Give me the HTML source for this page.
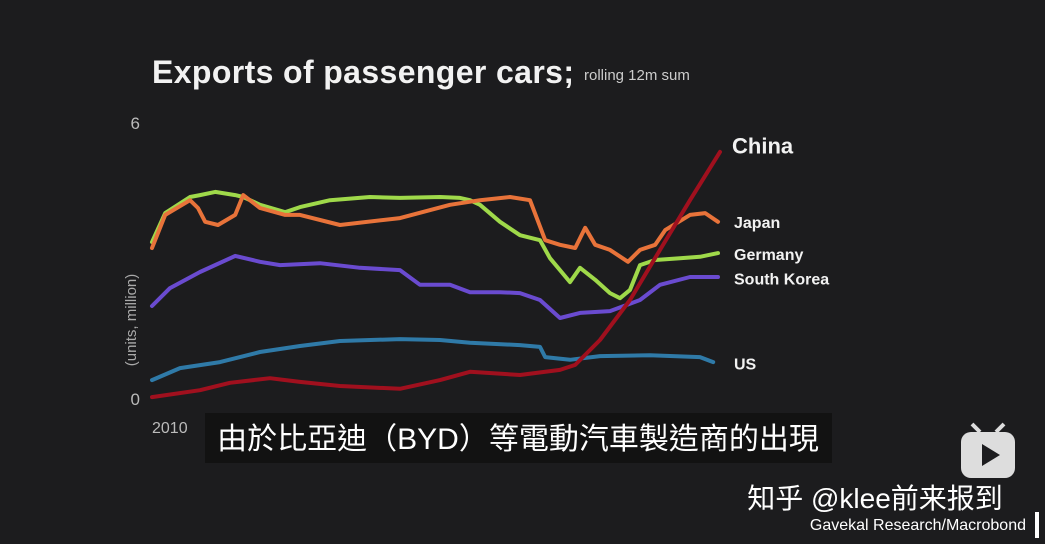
<!DOCTYPE html>
<html><head><meta charset="utf-8"><style>
body{margin:0;background:#1b1b1d;width:1045px;height:544px;overflow:hidden;font-family:"Liberation Sans","Noto Sans CJK TC",sans-serif;}
svg{position:absolute;left:0;top:0}
</style></head><body>
<svg width="1045" height="544">
<rect width="1045" height="544" fill="#1c1c1e"/>
<text x="152" y="83" fill="#f2f2f2" font-size="32" font-weight="bold" textLength="422">Exports of passenger cars;</text>
<text x="584" y="80" fill="#ccc" font-size="15">rolling 12m sum</text>
<text x="136" y="320" fill="#aaa" font-size="15" transform="rotate(-90 136 320)" text-anchor="middle">(units, million)</text>
<g id="ticks"></g>
<g id="lines"></g>
<g id="labels"></g>
<rect x="205" y="413" width="627" height="50" fill="#111" opacity="0.85"/>
<text x="518" y="449" fill="#fff" font-size="30" text-anchor="middle" font-family="'Liberation Sans','Noto Sans CJK TC',sans-serif">由於比亞迪（BYD）等電動汽車製造商的出現</text>
<text x="875" y="508" fill="#fff" font-size="28" text-anchor="middle" font-family="'Liberation Sans','Noto Sans CJK SC',sans-serif">知乎 @klee前来报到</text>
<g>
<rect x="961" y="432" width="54" height="46" rx="10" fill="#ddd"/>
<line x1="972" y1="424" x2="980" y2="432" stroke="#ddd" stroke-width="4"/>
<line x1="1004" y1="424" x2="996" y2="432" stroke="#ddd" stroke-width="4"/>
<polygon points="982,444 982,466 1000,455" fill="#1c1c1e"/>
</g>
<text x="1026" y="530" fill="#fff" font-size="16" text-anchor="end">Gavekal Research/Macrobond</text>
<rect x="1035" y="512" width="4" height="26" fill="#fff"/>
</svg>
<script>
const yTicks=[0,6];
const xTickLabels=["2010"];
const japanYears=[2010,2010.33,2010.95,2011.15,2011.33,2011.65,2012.08,2012.28,2012.7,2013.33,2013.7,2014.7,2016.2,2017.45,2018.2,2018.95,2019.45,2019.83,2020.2,2020.58,2020.83,2021.08,2021.45,2021.9,2022.2,2022.58,2022.83,2023.45,2023.83,2024.15];
const japanVals=[3.26,3.98,4.30,4.13,3.83,3.76,3.98,4.41,4.13,3.98,3.98,3.76,3.91,4.20,4.30,4.37,4.30,3.43,3.33,3.26,3.70,3.33,3.22,2.96,3.22,3.33,3.65,3.98,4.02,3.83];
const germanyYears=[2010,2010.33,2010.95,2011.2,2011.58,2012.08,2012.28,2012.7,2013.33,2013.7,2014.45,2015.45,2016.2,2017.2,2017.7,2017.95,2018.2,2018.7,2019.2,2019.7,2019.95,2020.45,2020.7,2021.08,2021.45,2021.7,2021.95,2022.2,2022.58,2023.2,2023.7,2024.15];
const germanyVals=[3.39,4.02,4.37,4.41,4.48,4.41,4.37,4.20,4.04,4.15,4.30,4.37,4.35,4.37,4.35,4.30,4.20,3.83,3.54,3.43,3.04,2.52,2.83,2.57,2.28,2.17,2.35,2.89,3.00,3.04,3.07,3.15];
const koreaYears=[2010,2010.45,2011.2,2012.08,2012.7,2013.2,2014.2,2015.2,2016.2,2016.7,2017.45,2017.95,2018.7,2019.2,2019.7,2020.2,2020.7,2021.45,2022.2,2022.7,2023.45,2024.15];
const koreaVals=[2.0,2.39,2.74,3.09,2.96,2.89,2.93,2.83,2.78,2.46,2.46,2.30,2.30,2.28,2.13,1.74,1.85,1.89,2.13,2.46,2.63,2.63];
const usYears=[2010,2010.7,2011.7,2012.7,2013.7,2014.7,2016.2,2017.2,2017.95,2019.2,2019.7,2019.83,2020.45,2021.2,2022.45,2023.7,2024.03];
const usVals=[0.39,0.65,0.78,1.0,1.13,1.24,1.28,1.26,1.20,1.15,1.11,0.89,0.83,0.91,0.93,0.89,0.78];
const chinaYears=[2010,2011.2,2011.95,2012.95,2013.7,2014.7,2016.2,2017.2,2017.95,2019.2,2020.2,2020.58,2021.2,2021.95,2022.7,2023.45,2024.2];
const chinaVals=[0.02,0.17,0.33,0.43,0.35,0.26,0.20,0.39,0.57,0.50,0.61,0.72,1.26,2.13,3.22,4.30,5.35];
const labelNames=["China","Japan","Germany","South Korea","US"];
const labelVals=[5.45,3.83,3.13,2.6,0.75];

const NS="http://www.w3.org/2000/svg";
function xs(yr){return 152+(yr-2010)*40;}
function ys(v){return 398-v*46;}
function mk(tag,attrs,parent){const e=document.createElementNS(NS,tag);for(const k in attrs)e.setAttribute(k,attrs[k]);parent.appendChild(e);return e;}
const tg=document.getElementById('ticks');
yTicks.forEach(t=>{const e=mk('text',{x:140,y:ys(t)+7,fill:'#bbb','font-size':17,'text-anchor':'end'},tg);e.textContent=t;

});
xTickLabels.forEach(t=>{const e=mk('text',{x:xs(+t),y:433,fill:'#bbb','font-size':16},tg);e.textContent=t;

});
const lg=document.getElementById('lines');
function line(years,vals,color,name){const d=years.map((y,i)=>(i?'L':'M')+xs(y).toFixed(1)+','+ys(vals[i]).toFixed(1)).join(' ');
const p=mk('path',{d:d,fill:'none',stroke:color,'stroke-width':4,'stroke-linejoin':'round','stroke-linecap':'round'},lg);

}
line(usYears,usVals,'#2f7aa8','us-line');
line(koreaYears,koreaVals,'#6a4bd0','south-korea-line');
line(germanyYears,germanyVals,'#9fd94a','germany-line');
line(japanYears,japanVals,'#e8733a','japan-line');
line(chinaYears,chinaVals,'#a0101e','china-line');
const lb=document.getElementById('labels');
labelNames.forEach((n,i)=>{const big=i==0;const e=mk('text',{x:big?732:734,y:ys(labelVals[i])+6,fill:'#f2f2f2','font-size':big?22:16,'font-weight':'bold'},lb);e.textContent=n;

});
</script>
</body></html>
